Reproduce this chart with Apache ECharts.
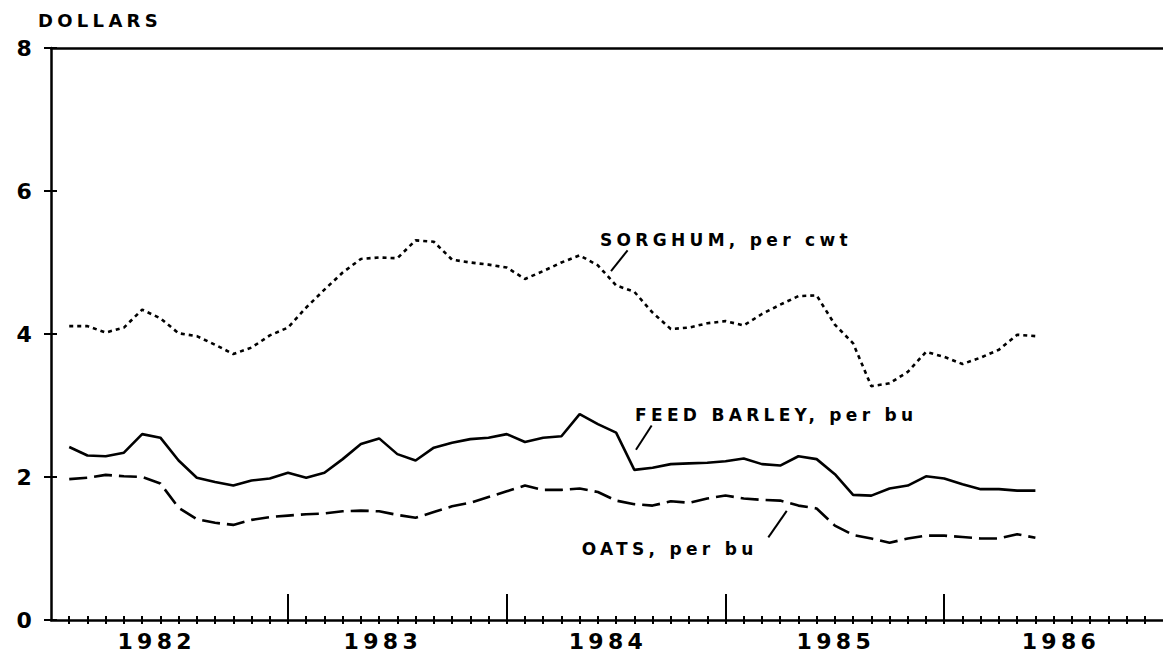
<!DOCTYPE html>
<html>
<head>
<meta charset="utf-8">
<script src="https://cdn.jsdelivr.net/npm/echarts@6/dist/echarts.min.js"></script>
<style>
  html, body { margin: 0; padding: 0; background: #fff; }
  #chart { width: 1163px; height: 652px; }
  #chart svg text { letter-spacing: 4.3px; }
</style>
</head>
<body>
<div id="chart"></div>
<script>
// ---------- DATA (monthly, Jan 1982 = month 0) ----------
const yearLabels = ['1982', '1983', '1984', '1985', '1986'];
const yTickValues = [0, 2, 4, 6, 8];

const sorghum = [4.11, 4.11, 4.02, 4.09, 4.34, 4.22, 4.01, 3.97, 3.85, 3.72,
                 3.81, 3.98, 4.09, 4.37, 4.62, 4.86, 5.05, 5.07, 5.06, 5.31,
                 5.29, 5.04, 5.00, 4.97, 4.93, 4.77, 4.88, 5.00, 5.10, 4.96,
                 4.68, 4.59, 4.30, 4.07, 4.09, 4.15, 4.18, 4.12, 4.28, 4.41,
                 4.53, 4.54, 4.13, 3.87, 3.27, 3.31, 3.47, 3.75, 3.68, 3.58,
                 3.67, 3.78, 3.99, 3.97];
const barley  = [2.42, 2.30, 2.29, 2.34, 2.60, 2.55, 2.23, 1.99, 1.93, 1.88,
                 1.95, 1.98, 2.06, 1.99, 2.06, 2.25, 2.46, 2.54, 2.32, 2.23,
                 2.41, 2.48, 2.53, 2.55, 2.60, 2.49, 2.55, 2.57, 2.88, 2.74,
                 2.62, 2.10, 2.13, 2.18, 2.19, 2.20, 2.22, 2.26, 2.18, 2.16,
                 2.29, 2.25, 2.04, 1.75, 1.74, 1.84, 1.88, 2.01, 1.98, 1.90,
                 1.83, 1.83, 1.81, 1.81];
const oats    = [1.97, 1.99, 2.03, 2.01, 2.00, 1.91, 1.57, 1.41, 1.36, 1.33,
                 1.40, 1.44, 1.46, 1.48, 1.49, 1.52, 1.53, 1.52, 1.47, 1.43,
                 1.51, 1.59, 1.64, 1.72, 1.80, 1.88, 1.82, 1.82, 1.84, 1.79,
                 1.67, 1.62, 1.60, 1.66, 1.64, 1.70, 1.74, 1.70, 1.68, 1.67,
                 1.60, 1.56, 1.32, 1.19, 1.14, 1.08, 1.14, 1.18, 1.18, 1.16,
                 1.14, 1.14, 1.20, 1.15];
const seriesNames = ['SORGHUM, per cwt', 'FEED BARLEY, per bu', 'OATS, per bu'];

// ---------- LAYOUT (axis units) ----------
const xMin = -1, xMax = 60;
const yearLabelAt = [4.8, 17.2, 29.55, 42.05, 54.4];
const minorTickAt = []; for (let m = 0; m < 60; m++) minorTickAt.push(m);
const majorTickAt = [12, 24, 36, 48];
const noteAt   = [[29.12, 5.32], [31.04, 2.87], [28.11, 0.99]];
const leaderAt = [
  [[30.63, 5.17], [29.72, 4.88]],
  [[31.95, 2.72], [31.09, 2.38]],
  [[38.35, 1.155], [39.36, 1.526]]
];

const FONT = 'DejaVu Sans';
const ink = '#000';

function pts(arr) { return arr.map((v, i) => [i, v]); }

function noteMarks(k) {
  return {
    markPoint: {
      symbol: 'circle', symbolSize: 0, silent: true,
      data: [{ coord: noteAt[k], value: seriesNames[k] }],
      label: {
        show: true, position: 'right', distance: 0,
        formatter: seriesNames[k], color: ink,
        fontFamily: FONT, fontWeight: 'bold', fontSize: 17
      }
    },
    markLine: {
      symbol: 'none', silent: true, animation: false,
      label: { show: false },
      lineStyle: { color: ink, width: 2, type: 'solid' },
      data: [[{ coord: leaderAt[k][0] }, { coord: leaderAt[k][1] }]]
    }
  };
}

const baseX = { type: 'value', min: xMin, max: xMax, splitLine: { show: false } };
const baseY = { type: 'value', min: 0, max: 8, interval: 2, splitLine: { show: false } };

const option = {
  animation: false,
  backgroundColor: '#fff',
  title: {
    text: 'DOLLARS', left: 33, top: 6,
    textStyle: { fontFamily: FONT, fontWeight: 'bold', fontSize: 18, color: ink }
  },
  grid: { left: 51, right: 0, top: 48, bottom: 31, show: false },
  xAxis: [
    Object.assign({}, baseX, {
      position: 'bottom',
      axisLine: { show: true, onZero: false, lineStyle: { color: ink, width: 2.5 } },
      axisTick: { show: true, customValues: minorTickAt, length: 4, lineStyle: { color: ink, width: 2 } },
      axisLabel: {
        show: true, customValues: yearLabelAt, margin: 10,
        formatter: v => yearLabels[yearLabelAt.indexOf(v)],
        fontFamily: FONT, fontWeight: 'bold', fontSize: 22, color: ink
      }
    }),
    Object.assign({}, baseX, {
      position: 'bottom',
      axisLine: { show: false, onZero: false },
      axisTick: { show: true, inside: true, customValues: minorTickAt, length: 4, lineStyle: { color: ink, width: 2 } },
      axisLabel: { show: false }
    }),
    Object.assign({}, baseX, {
      position: 'bottom',
      axisLine: { show: false, onZero: false },
      axisTick: { show: true, inside: true, customValues: majorTickAt, length: 26, lineStyle: { color: ink, width: 2 } },
      axisLabel: { show: false }
    }),
    Object.assign({}, baseX, {
      position: 'top',
      axisLine: { show: true, onZero: false, lineStyle: { color: ink, width: 2.5 } },
      axisTick: { show: false },
      axisLabel: { show: false }
    })
  ],
  yAxis: [
    Object.assign({}, baseY, {
      position: 'left',
      axisLine: { show: true, onZero: false, lineStyle: { color: ink, width: 2.5 } },
      axisTick: { show: true, length: 7, lineStyle: { color: ink, width: 2 } },
      axisLabel: {
        show: true, margin: 15,
        formatter: v => (yTickValues.indexOf(v) >= 0 ? String(v) : ''),
        fontFamily: FONT, fontWeight: 'bold', fontSize: 22, color: ink
      }
    }),
    Object.assign({}, baseY, {
      position: 'left',
      axisLine: { show: false, onZero: false },
      axisTick: { show: true, inside: true, length: 6, lineStyle: { color: ink, width: 2 } },
      axisLabel: { show: false }
    })
  ],
  series: [
    Object.assign({
      name: seriesNames[0], type: 'line', data: pts(sorghum), showSymbol: false,
      lineStyle: { color: ink, width: 2.6, type: [4, 4] }, z: 3
    }, noteMarks(0)),
    Object.assign({
      name: seriesNames[1], type: 'line', data: pts(barley), showSymbol: false,
      lineStyle: { color: ink, width: 2.6, type: 'solid' }, z: 3
    }, noteMarks(1)),
    Object.assign({
      name: seriesNames[2], type: 'line', data: pts(oats), showSymbol: false,
      lineStyle: { color: ink, width: 2.6, type: [18, 7] }, z: 3
    }, noteMarks(2))
  ]
};

const chart = echarts.init(document.getElementById('chart'), null, { renderer: 'svg' });
chart.setOption(option);
</script>
</body>
</html>
